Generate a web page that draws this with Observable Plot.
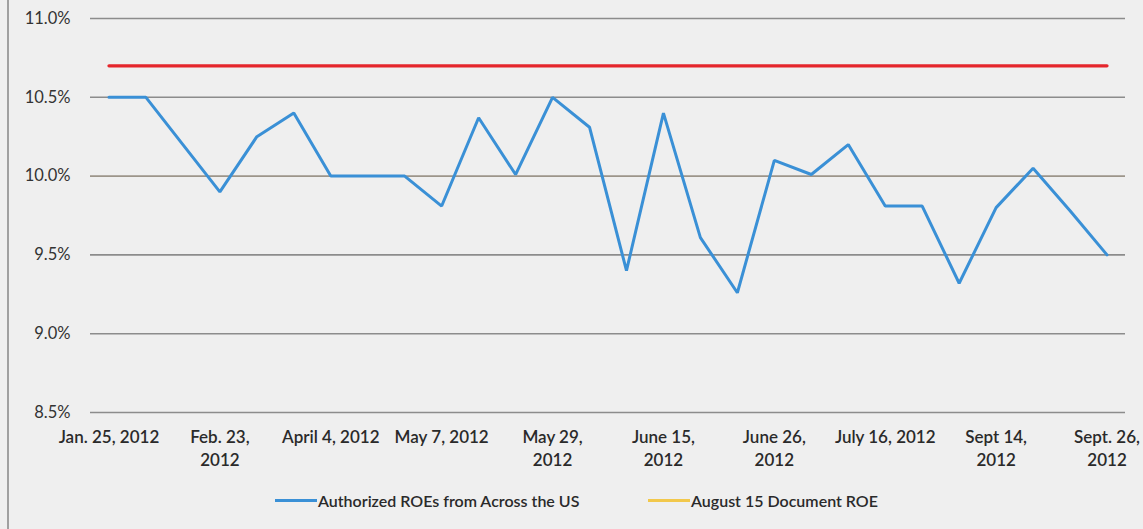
<!DOCTYPE html>
<html>
<head>
<meta charset="utf-8">
<script src="https://cdn.jsdelivr.net/npm/d3@7"></script>
<script src="https://cdn.jsdelivr.net/npm/@observablehq/plot@0.6"></script>
<style>
  html, body { margin: 0; padding: 0; background: #efefef; }
  body { width: 1143px; height: 529px; overflow: hidden; position: relative; font-family: Lato, "Open Sans", sans-serif; }
  #edge { position: absolute; left: 7px; top: 0; width: 2px; height: 529px; background: #a0a0a0; }
  #chart { position: absolute; left: 0; top: 0; }
  #legend { position: absolute; top: 491px; left: 0; width: 1143px; font-size: 16px; font-weight: 600; color: #2a2a2a; }
  .item { position: absolute; display: flex; align-items: center; white-space: nowrap; }
  .sw { display: inline-block; width: 42px; height: 3px; margin-right: 1px; }
</style>
</head>
<body>
<div id="edge"></div>
<div id="chart"></div>
<div id="legend"></div>
<script>
// Data
const observation = d3.range(28); // 28 decisions, evenly spaced
const roe = [10.5, 10.5, 10.2, 9.9, 10.25, 10.4, 10.0, 10.0, 10.0, 9.81,
             10.37, 10.01, 10.5, 10.31, 9.40, 10.4, 9.61, 9.26, 10.1, 10.01,
             10.2, 9.81, 9.81, 9.32, 9.8, 10.05, 9.78, 9.5];
const documentROE = 10.7;
const tickIndex = [0, 3, 6, 9, 12, 15, 18, 21, 24, 27];
const tickLabels = ["Jan. 25, 2012", "Feb. 23,\n2012", "April 4, 2012", "May 7, 2012",
                    "May 29,\n2012", "June 15,\n2012", "June 26,\n2012", "July 16, 2012",
                    "Sept 14,\n2012", "Sept. 26,\n2012"];
const yTicks = [8.5, 9.0, 9.5, 10.0, 10.5, 11.0];
const seriesNames = ["Authorized ROEs from Across the US", "August 15 Document ROE"];
const seriesColors = ["#3a90d6", "#f2c84b"];
const docLineColor = "#e5262c";

const rows = observation.map((i) => ({i, roe: roe[i], doc: documentROE}));
const labelOf = new Map(tickIndex.map((t, k) => [t, tickLabels[k]]));

const chart = Plot.plot({
  width: 1143,
  height: 480,
  marginLeft: 90,
  marginRight: 18,
  marginTop: 18,
  marginBottom: 68,
  style: {background: "transparent", fontFamily: "Lato, 'Open Sans', sans-serif"},
  x: {type: "point", domain: observation, padding: 0.5, round: false},
  y: {domain: [8.5, 11.0]},
  marks: [
    Plot.ruleY(yTicks, {stroke: (d) => d === 10.0 ? "#9c958a" : "#8c8c8c", strokeWidth: 1.6}),
    Plot.axisY({ticks: yTicks, tickSize: 0, tickPadding: 20, tickFormat: (d) => d.toFixed(1) + "%",
                fontSize: 16.5, fill: "#333", label: null}),
    Plot.axisX({ticks: tickIndex, tickSize: 0, tickPadding: 14, tickFormat: (d) => labelOf.get(d),
                fontSize: 17, fontWeight: 600, fill: "#2a2a2a", lineHeight: 1.35, label: null}),
    Plot.line(rows, {x: "i", y: "doc", stroke: docLineColor, strokeWidth: 3.2}),
    Plot.line(rows, {x: "i", y: "roe", stroke: seriesColors[0], strokeWidth: 3, strokeLinejoin: "miter"})
  ]
});
document.getElementById("chart").append(chart);

// Legend below the plot
const legend = document.getElementById("legend");
const lefts = [275, 648];
seriesNames.forEach((name, k) => {
  const item = document.createElement("div");
  item.className = "item";
  item.style.left = lefts[k] + "px";
  const sw = document.createElement("span");
  sw.className = "sw";
  sw.style.background = seriesColors[k];
  const tx = document.createElement("span");
  tx.textContent = name;
  item.append(sw, tx);
  legend.append(item);
});
</script>
</body>
</html>
